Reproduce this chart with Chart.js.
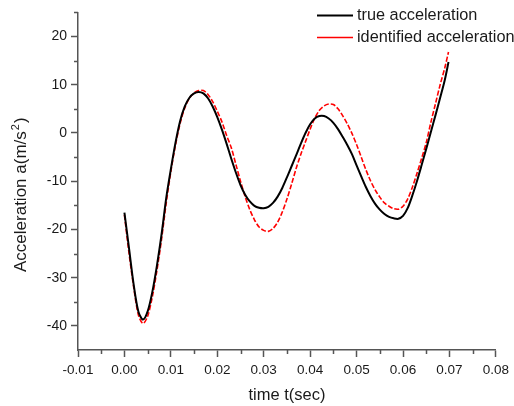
<!DOCTYPE html>
<html>
<head>
<meta charset="utf-8">
<script src="https://cdn.jsdelivr.net/npm/chart.js@4.4.1/dist/chart.umd.min.js"></script>
<style>
  html, body { margin: 0; padding: 0; background: #fff; }
  #wrap { width: 514px; height: 406px; position: relative; }
</style>
</head>
<body>
<div id="wrap"><canvas id="chart" width="514" height="406"></canvas></div>
<script>
const FONT = 'Arial, "Liberation Sans", sans-serif';

// time samples (sec)
const timeSec = [
  0.000, 0.001, 0.002, 0.003, 0.004, 0.005, 0.006, 0.007, 0.008, 0.009,
  0.010, 0.011, 0.012, 0.013, 0.014, 0.015, 0.016, 0.017, 0.018, 0.019,
  0.020, 0.021, 0.022, 0.023, 0.024, 0.025, 0.026, 0.027, 0.028, 0.029,
  0.030, 0.031, 0.032, 0.033, 0.034, 0.035, 0.036, 0.037, 0.038, 0.039,
  0.040, 0.041, 0.042, 0.043, 0.044, 0.045, 0.046, 0.047, 0.048, 0.049,
  0.050, 0.051, 0.052, 0.053, 0.054, 0.055, 0.056, 0.057, 0.058, 0.059,
  0.060, 0.061, 0.062, 0.063, 0.064, 0.065, 0.066, 0.067, 0.068, 0.069,
  0.0698
];

const trueAccel = [
  -16.5, -24.0, -31.5, -37.0, -38.7, -37.0, -33.0, -27.5, -21.0, -13.5,
  -7.5, -2.0, 2.5, 5.5, 7.3, 8.2, 8.5, 8.2, 7.2, 5.5,
  3.3, 0.7, -2.2, -5.3, -8.2, -10.8, -12.8, -14.2, -15.1, -15.5,
  -15.6, -15.3, -14.5, -13.2, -11.4, -9.2, -6.9, -4.6, -2.2, 0.0,
  1.8, 3.0, 3.5, 3.5, 3.0, 2.1, 0.8, -0.8, -2.5, -4.4,
  -6.7, -9.0, -11.2, -13.1, -14.7, -15.9, -16.8, -17.4, -17.7, -17.8,
  -17.2, -15.6, -13.0, -10.0, -6.7, -3.3, 0.2, 3.7, 7.3, 11.0,
  14.7
];

const identAccel = [
  -17.0, -25.0, -32.0, -37.7, -39.5, -38.0, -34.0, -28.5, -22.0, -14.5,
  -8.0, -2.5, 2.0, 5.2, 7.2, 8.3, 8.8, 8.8, 8.0, 6.5,
  4.5, 2.3, -0.5, -3.0, -6.5, -10.0, -13.2, -15.9, -18.0, -19.5,
  -20.2, -20.4, -19.8, -18.5, -16.4, -13.7, -10.6, -7.3, -4.4, -1.8,
  0.8, 3.1, 4.7, 5.6, 6.0, 5.9, 5.0, 3.6, 1.9, -0.1,
  -2.4, -5.0, -7.6, -9.9, -11.8, -13.3, -14.5, -15.2, -15.7, -15.8,
  -15.2, -13.7, -11.3, -8.4, -5.3, -2.0, 2.2, 6.1, 10.0, 13.5,
  16.8
];

const xTicks = [-0.01, 0.00, 0.01, 0.02, 0.03, 0.04, 0.05, 0.06, 0.07, 0.08];
const xMinorTicks = [-0.005, 0.005, 0.015, 0.025, 0.035, 0.045, 0.055, 0.065, 0.075];
const yTicks = [-40, -30, -20, -10, 0, 10, 20];
const yMinorTicks = [-35, -25, -15, -5, 5, 15, 25];

const legendLabels = ['true acceleration', 'identified acceleration'];
const AXIS_COLOR = '#555';
const TEXT_COLOR = '#1a1a1a';

function toPoints(xs, ys) {
  return xs.map((x, i) => ({ x: x, y: ys[i] }));
}

// minor ticks, y title with superscript, legend inside the plot
const decorPlugin = {
  id: 'decor',
  afterDraw(chart) {
    const ctx = chart.ctx;
    const xs = chart.scales.x;
    const ys = chart.scales.y;
    ctx.save();
    ctx.strokeStyle = AXIS_COLOR;
    ctx.lineWidth = 1.5;
    ctx.beginPath();
    xMinorTicks.forEach(v => {
      const px = Math.round(xs.getPixelForValue(v)) + 0.5;
      ctx.moveTo(px, ys.bottom);
      ctx.lineTo(px, ys.bottom + 4);
    });
    yMinorTicks.forEach(v => {
      const py = Math.round(ys.getPixelForValue(v)) + 0.5;
      ctx.moveTo(xs.left, py);
      ctx.lineTo(xs.left - 4, py);
    });
    ctx.stroke();

    // y axis title: Acceleration a(m/s^2)
    ctx.save();
    ctx.translate(26, 272);
    ctx.rotate(-Math.PI / 2);
    ctx.fillStyle = TEXT_COLOR;
    ctx.textBaseline = 'alphabetic';
    ctx.textAlign = 'left';
    ctx.font = '17px ' + FONT;
    const main = 'Acceleration a(m/s';
    ctx.fillText(main, 0, 0);
    let w = ctx.measureText(main).width;
    ctx.font = '11px ' + FONT;
    ctx.fillText('2', w + 1, -7);
    w += ctx.measureText('2').width + 2;
    ctx.font = '17px ' + FONT;
    ctx.fillText(')', w, 0);
    ctx.restore();

    // legend
    const rows = [
      { y: 15, color: '#000', width: 2 },
      { y: 37, color: '#ff0000', width: 1.6 },
    ];
    ctx.font = '16.3px ' + FONT;
    ctx.textBaseline = 'middle';
    ctx.textAlign = 'left';
    rows.forEach((r, i) => {
      ctx.strokeStyle = r.color;
      ctx.lineWidth = r.width;
      ctx.beginPath();
      ctx.moveTo(317, r.y + 0.5);
      ctx.lineTo(353, r.y + 0.5);
      ctx.stroke();
      ctx.fillStyle = TEXT_COLOR;
      ctx.fillText(legendLabels[i], 357, r.y + 1);
    });
    ctx.restore();
  }
};

const ctx = document.getElementById('chart').getContext('2d');
new Chart(ctx, {
  type: 'scatter',
  data: {
    datasets: [
      {
        label: 'identified acceleration',
        data: toPoints(timeSec, identAccel),
        showLine: true,
        borderColor: '#ff0000',
        borderWidth: 1.6,
        borderDash: [5, 2],
        pointRadius: 0,
        tension: 0.3,
        fill: false,
        order: 2,
      },
      {
        label: 'true acceleration',
        data: toPoints(timeSec, trueAccel),
        showLine: true,
        borderColor: '#000000',
        borderWidth: 2,
        pointRadius: 0,
        tension: 0.3,
        fill: false,
        order: 1,
      },
    ],
  },
  options: {
    responsive: false,
    animation: false,
    layout: { padding: { top: 11, right: 13, left: 0, bottom: 0 } },
    plugins: {
      legend: { display: false },
      tooltip: { enabled: false },
    },
    scales: {
      x: {
        type: 'linear',
        min: -0.01,
        max: 0.08,
        afterBuildTicks: (scale) => { scale.ticks = xTicks.map(v => ({ value: v })); },
        afterFit: (scale) => { scale.height = 56; },
        grid: { drawOnChartArea: false, drawTicks: true, tickLength: 7, tickColor: AXIS_COLOR, tickWidth: 1.5 },
        border: { display: true, color: AXIS_COLOR, width: 1.5 },
        ticks: {
          color: TEXT_COLOR,
          font: { family: FONT, size: 13.5 },
          padding: 5,
          maxRotation: 0,
          autoSkip: false,
          callback: (v) => Number(v).toFixed(2),
        },
        title: {
          display: true,
          text: 'time t(sec)',
          color: TEXT_COLOR,
          font: { family: FONT, size: 16.5 },
          padding: { top: 0, bottom: 1 },
        },
      },
      y: {
        type: 'linear',
        min: -45,
        max: 25,
        afterBuildTicks: (scale) => { scale.ticks = yTicks.map(v => ({ value: v })); },
        afterFit: (scale) => { scale.width = 78; },
        grid: { drawOnChartArea: false, drawTicks: true, tickLength: 7, tickColor: AXIS_COLOR, tickWidth: 1.5 },
        border: { display: true, color: AXIS_COLOR, width: 1.5 },
        ticks: {
          color: TEXT_COLOR,
          font: { family: FONT, size: 14 },
          padding: 4,
          autoSkip: false,
          callback: (v) => String(v),
        },
        title: { display: false },
      },
    },
  },
  plugins: [decorPlugin],
});
</script>
</body>
</html>
